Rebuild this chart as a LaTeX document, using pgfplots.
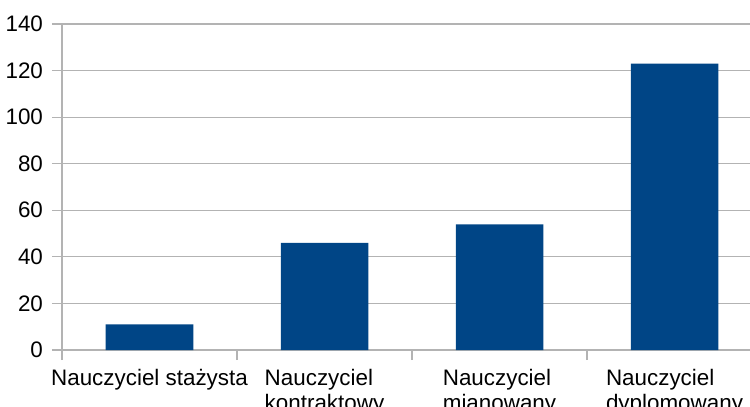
\documentclass[border=0pt]{standalone}
\usepackage{fontspec}
\setmainfont{Liberation Sans}
\usepackage{pgfplots}
\pgfplotsset{compat=1.18}
\definecolor{gridgray}{HTML}{B3B3B3}
\definecolor{barblue}{HTML}{004586}
\begin{document}
\begin{tikzpicture}[x=1pt,y=1pt]
\begin{scope}
\clip (-31,-28.5) rectangle (344,175);
\begin{axis}[at={(0,0)}, anchor=south west, scale only axis,
  width=350pt, height=163pt,
  xmin=-0.5, xmax=3.5, ymin=0, ymax=140,
  ytick={0,20,...,140},
  ymajorgrids, grid style={color=gridgray, line width=0.6pt},
  axis x line*=bottom, axis y line*=left,
  axis line style={gridgray, line width=0.6pt, -},
  xtick={-0.5,0.5,1.5,2.5,3.5},
  x tick label as interval,
  xticklabels={{Nauczyciel stażysta},{Nauczyciel\\kontraktowy},{Nauczyciel\\mianowany},{Nauczyciel\\dyplomowany}},
  tick align=outside, major tick length=5pt,
  tick style={gridgray, line width=0.6pt},
  xticklabel style={align=left, anchor=north, yshift=-1pt},
  yticklabel style={anchor=east, xshift=-1pt},
  /pgf/number format/assume math mode=true,
  tick label style={font=\fontsize{11.2}{12.5}\selectfont, text=black},
]
\addplot[ybar, bar width=0.5, fill=barblue, draw=none] coordinates {(0,11) (1,46) (2,54) (3,123)};
\end{axis}
\end{scope}
\pgfresetboundingbox
\path[use as bounding box] (-31,-28.5) rectangle (344,175);
\end{tikzpicture}
\end{document}
